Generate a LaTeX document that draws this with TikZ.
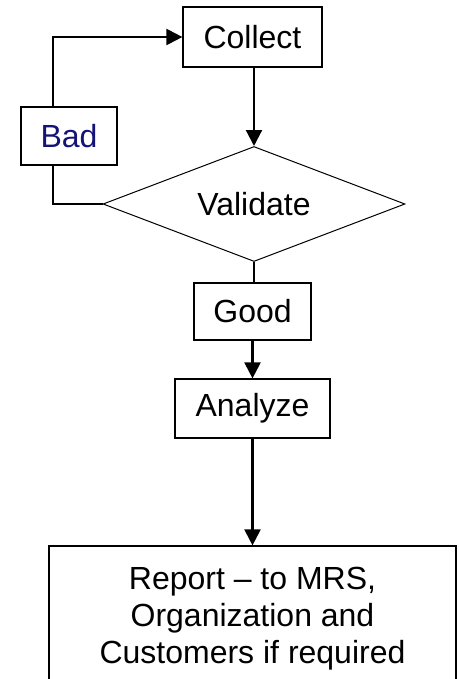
\documentclass[tikz,border=0pt]{standalone}
\usepackage{fontspec}
\setmainfont{Liberation Sans}
\usetikzlibrary{shapes.geometric,arrows.meta}
\definecolor{badblue}{RGB}{20,20,120}
\begin{document}
\begin{tikzpicture}[x=0.75pt,y=-0.75pt,font=\fontsize{24}{27.75}\selectfont,>={Triangle[length=12pt,width=12pt]}]
% Two node styles: boxes and the test
\tikzstyle{box node}=[rectangle,draw,line width=0.9pt,inner sep=0,align=center];
\tikzstyle{test node}=[diamond,draw,line width=0.75pt,inner sep=0,aspect=2.63,minimum width=226.5pt,minimum height=86.25pt];
\tikzstyle{link}=[line width=1.6pt];
\useasboundingbox (0,0) rectangle (458,679);
\clip (0,0) rectangle (458,679);
% The steps
\node(collect)[box node,minimum width=104.25pt,minimum height=45pt] at (252.5,37) {Collect};
\node(validate)[test node] at (254,204) {Validate};
\node(bad)[box node,minimum width=72pt,minimum height=43.5pt,text=badblue] at (69,136) {Bad};
\node(good)[box node,minimum width=87.75pt,minimum height=42.75pt] at (252.5,311.5) {Good};
\node(analyze)[box node,minimum width=116.25pt,minimum height=44.25pt] at (252.5,408.5) {Analyze};
\node(report)[box node,minimum width=305.25pt,minimum height=109.5pt] at (252.5,619)
{Report -- to MRS,\\Organization and\\Customers if required};
% the loop back
\coordinate(looptop) at (53,37);
\coordinate(loopbot) at (53,204);
\draw[link,->](bad.north -| looptop)--(looptop)--(collect.west);
\draw[link](bad.south -| loopbot)--(loopbot)--(validate.west);
% main line
\draw[link,->](collect.south -| validate.north)--(validate.north);
\draw[link](validate.south)--(good.north -| validate.south);
\draw[link,->](good)--(analyze);
\draw[link,->](analyze)--(report);
\end{tikzpicture}
\end{document}
